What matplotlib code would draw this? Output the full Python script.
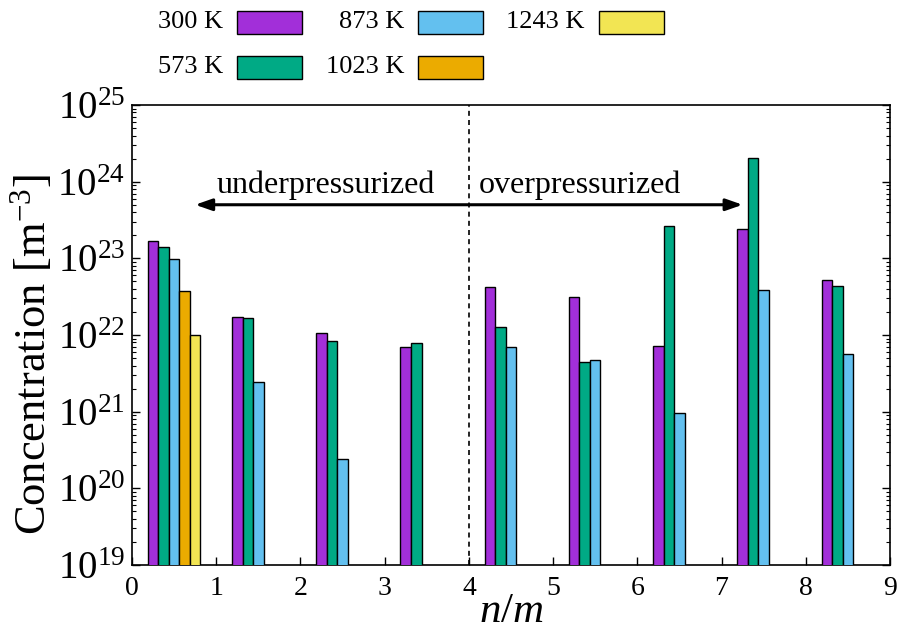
import numpy as np
import matplotlib
matplotlib.use("Agg")
import matplotlib.pyplot as plt
from matplotlib.patches import Rectangle
from matplotlib.ticker import LogLocator, NullLocator, FixedLocator

plt.rcParams['font.family'] = ['Liberation Serif', 'DejaVu Serif']
plt.rcParams['mathtext.fontset'] = 'custom'
plt.rcParams['mathtext.rm'] = 'Liberation Serif'
plt.rcParams['mathtext.it'] = 'Liberation Serif:italic'

# concentration per n/m ratio, one list per temperature (None = no bar)
nm = np.arange(9)
temps = ["300 K", "573 K", "873 K", "1023 K", "1243 K"]
conc_300 = [1.67e23, 1.71e22, 1.06e22, 7.0e21, 4.2e22, 3.09e22, 7.2e21, 2.39e23, 5.2e22]
conc_573 = [1.42e23, 1.66e22, 8.3e21, 7.8e21, 1.26e22, 4.4e21, 2.65e23, 2.05e24, 4.35e22]
conc_873 = [9.7e22, 2.44e21, 2.43e20, None, 6.9e21, 4.7e21, 9.7e20, 3.85e22, 5.7e21]
conc_1023 = [3.78e22, None, None, None, None, None, None, None, None]
conc_1243 = [1.0e22, None, None, None, None, None, None, None, None]
series = [conc_300, conc_573, conc_873, conc_1023, conc_1243]
colors = ['#a22fd9', '#00aa85', '#63c0ef', '#ebab00', '#f2e553']

fig = plt.figure(figsize=(9.02, 6.32), dpi=100)
ax = fig.add_axes([132/902, 1-565/632, (890-132)/902, (565-105)/632])

w = 0.125
for k, (vals, c) in enumerate(zip(series, colors)):
    xs = [x + 0.25 + k*w for x, v in zip(nm, vals) if v is not None]
    ys = [v for v in vals if v is not None]
    ax.bar(xs, ys, width=w, color=c, edgecolor='black', linewidth=1.0, zorder=3)

ax.set_yscale('log')
ax.set_ylim(1e19, 1e25)
ax.set_xlim(0, 9)
ax.yaxis.set_major_locator(LogLocator(base=10, numticks=10))
ax.yaxis.set_minor_locator(LogLocator(base=10, subs=np.arange(2, 10), numticks=10))
ax.xaxis.set_major_locator(FixedLocator(range(10)))
ax.xaxis.set_minor_locator(NullLocator())

ax.tick_params(axis='both', which='both', direction='in', top=False, right=True)
ax.tick_params(axis='y', which='major', length=6, width=1, labelsize=28, pad=5)
ax.tick_params(axis='y', which='minor', length=3, width=0.8)
ax.tick_params(axis='x', which='major', length=6, width=1, labelsize=20, pad=8)
for s in ax.spines.values():
    s.set_linewidth(1.2)

ax.axvline(4, color='black', linewidth=1.2, dashes=(3, 2.5), zorder=2)

ax.annotate('', xy=(0.75, 5e23), xytext=(7.25, 5e23),
            arrowprops=dict(arrowstyle='<|-|>,head_length=1.0,head_width=0.35',
                            color='black', lw=2.2, shrinkA=0, shrinkB=0), zorder=4)
ax.text(1.0, 7.1e23, 'underpressurized', fontsize=23, ha='left', va='baseline')
ax.text(4.12, 7.1e23, 'overpressurized', fontsize=23, ha='left', va='baseline')

ax.set_xlabel('$n/m$', fontsize=31, labelpad=-6)
fig.text(31/902, 1-355/632, 'Concentration [m$^{-3}$]', rotation=90,
         fontsize=32, ha='center', va='center')

# legend: label to the left of each swatch
legend_cols = [237, 418, 599]
legend_rows = [22, 67]
order = [(0, 0), (1, 0), (0, 1), (1, 1), (0, 2)]
for (row, col), label, c in zip(order, temps, colors):
    x0 = legend_cols[col]
    yc = legend_rows[row]
    fig.patches.append(Rectangle((x0/902, 1-(yc+11.5)/632), 65/902, 23/632,
                                 transform=fig.transFigure, facecolor=c,
                                 edgecolor='black', linewidth=1.0))
    fig.text((x0-14)/902, 1-yc/632, label, fontsize=19, ha='right', va='center')

fig.savefig('out.png', dpi=100)
